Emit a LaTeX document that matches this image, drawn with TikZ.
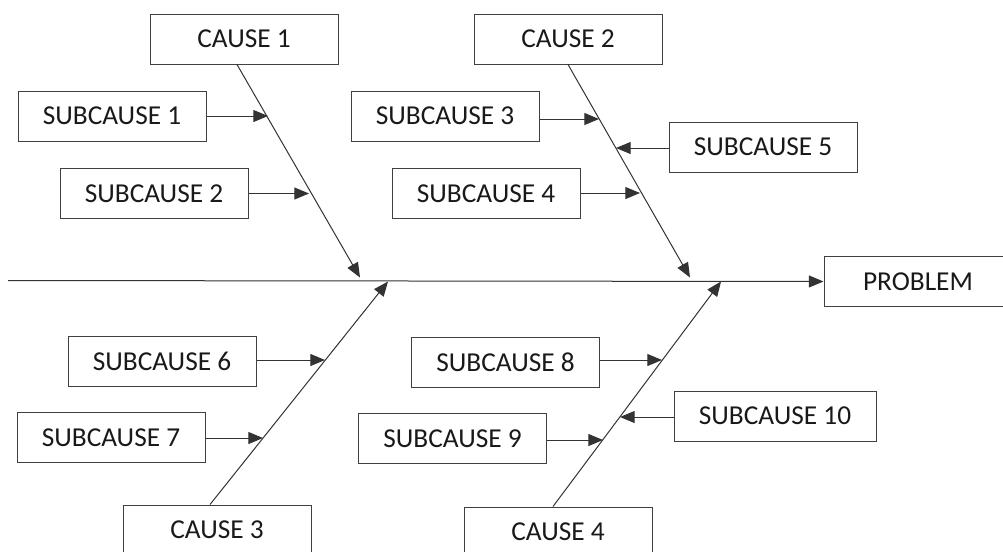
\documentclass[tikz,border=0pt]{standalone}
\usepackage{fontspec}
\setmainfont{Carlito}
\usetikzlibrary{arrows.meta,calc}

\tikzset{every picture/.style={line width=0.75pt}}
\tikzset{
  box/.style={draw=black!75, minimum width=141pt, minimum height=37.5pt, inner sep=0pt,
    text=black!90, font=\fontsize{20.5}{24}\selectfont},
  arr/.style={draw=black!80, -{Triangle[length=11pt,width=9pt]}}
}

\begin{document}
\begin{tikzpicture}[x=0.75pt,y=0.75pt,yscale=-1,xscale=1]
        \clip (0,0) rectangle (1003,551);

        % Cause boxes
        \node [box] (cause1) at (244,39) {CAUSE 1};
        \node [box] (cause2) at (568,39) {CAUSE 2};
        \node [box] (cause3) at (217,530) {CAUSE 3};
        \node [box] (cause4) at (558,532) {CAUSE 4};
        % Problem box
        \node [box] (problem) at (918,281.5) {PROBLEM};

        % Subcause boxes
        \node [box] (sub1) at (112,116) {SUBCAUSE 1};
        \node [box] (sub2) at (154,193.5) {SUBCAUSE 2};
        \node [box] (sub3) at (445,116) {SUBCAUSE 3};
        \node [box] (sub4) at (486,193.5) {SUBCAUSE 4};
        \node [box] (sub5) at (763,147) {SUBCAUSE 5};
        \node [box] (sub6) at (162,361) {SUBCAUSE 6};
        \node [box] (sub7) at (111,437.5) {SUBCAUSE 7};
        \node [box] (sub8) at (505.5,362) {SUBCAUSE 8};
        \node [box] (sub9) at (452.5,438.5) {SUBCAUSE 9};
        \node [box, minimum width=151.5pt] (sub10) at (775,416) {SUBCAUSE 10};

        % Spine
        \coordinate (tail) at (8,280.5);
        \draw [arr] (tail) -- (problem.west);

        % Bone tips on the spine
        \coordinate (h1) at (360,277.5);
        \coordinate (h2) at (690,277.5);
        \coordinate (h3) at (388,281.5);
        \coordinate (h4) at (721,281.5);

        % Bones
        \draw [arr] ($(cause1.south)+(-7,0)$) -- (h1);
        \draw [arr] (cause2.south) -- (h2);
        \draw [arr] ($(cause3.north)+(-7,0)$) -- (h3);
        \draw [arr] ($(cause4.north)+(-5,0)$) -- (h4);

        % Points on the bones
        \coordinate (t1) at (268,116);
        \coordinate (t2) at (309,193.5);
        \coordinate (t3) at (599,119);
        \coordinate (t4) at (640,193);
        \coordinate (t5) at (616,148);
        \coordinate (t6) at (325,360);
        \coordinate (t7) at (263,438);
        \coordinate (t8) at (662,360);
        \coordinate (t9) at (603,440);
        \coordinate (t10) at (620,417);

        % Subcause arrows
        \draw [arr] (sub1.east) -- (t1);
        \draw [arr] (sub2.east) -- (t2);
        \draw [arr] (sub3.east |- t3) -- (t3);
        \draw [arr] (sub4.east |- t4) -- (t4);
        \draw [arr] (sub5.west |- t5) -- (t5);
        \draw [arr] (sub6.east |- t6) -- (t6);
        \draw [arr] (sub7.east |- t7) -- (t7);
        \draw [arr] (sub8.east |- t8) -- (t8);
        \draw [arr] (sub9.east |- t9) -- (t9);
        \draw [arr] (sub10.west |- t10) -- (t10);

\end{tikzpicture}
\end{document}
